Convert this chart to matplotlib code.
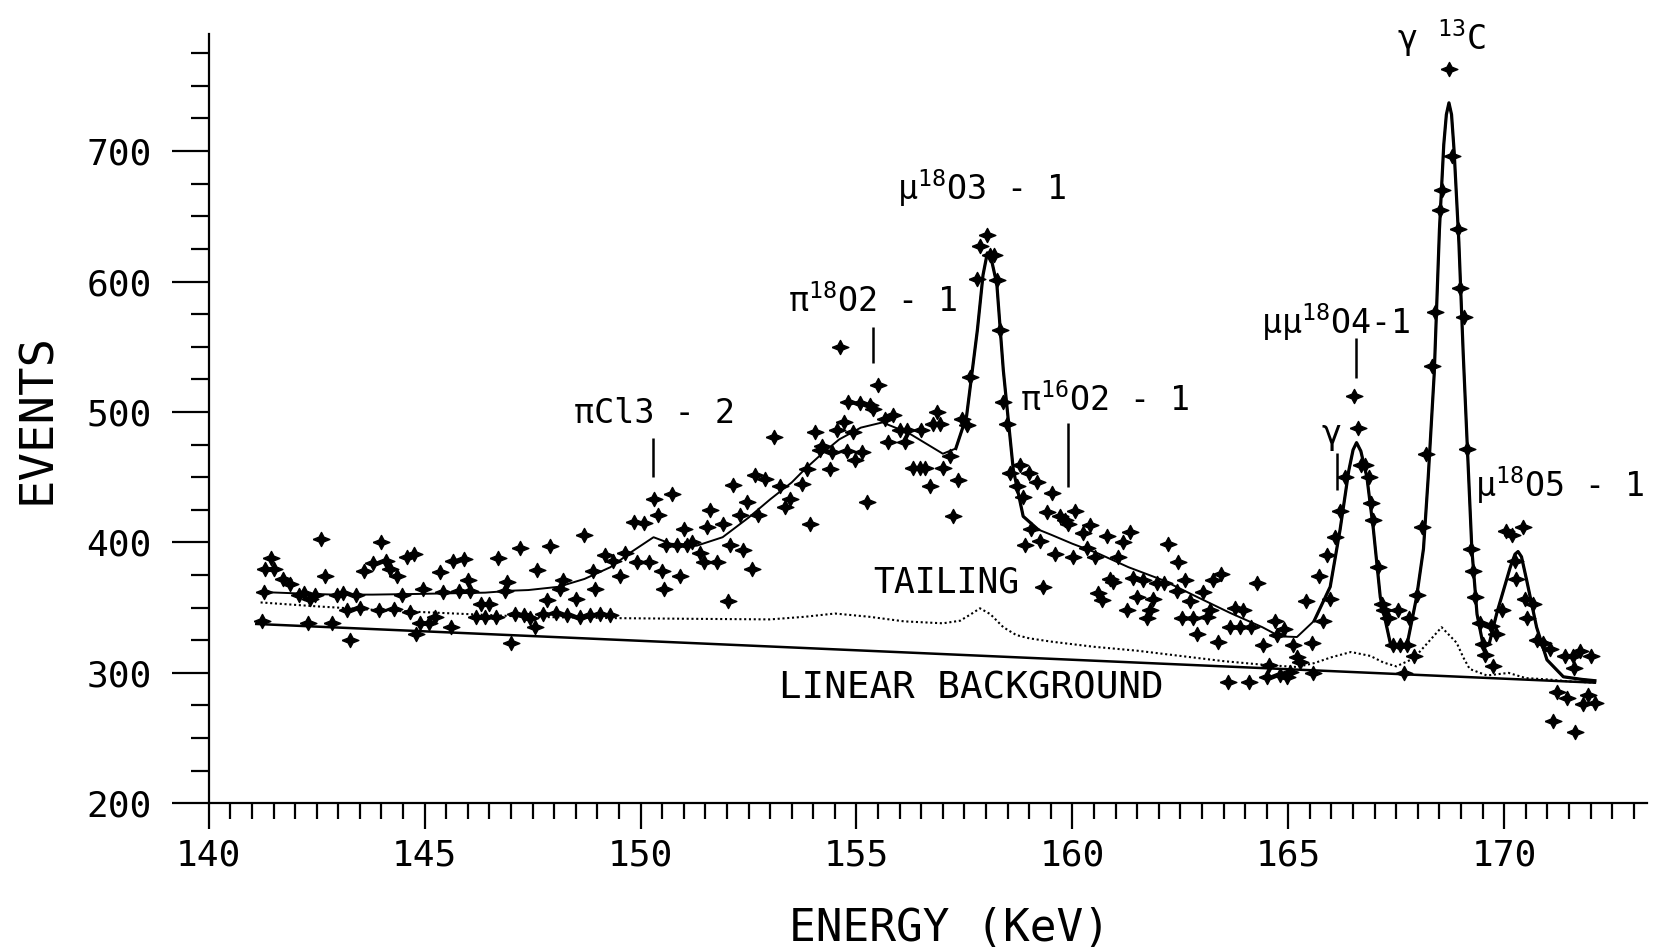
import numpy as np
import matplotlib
matplotlib.use("Agg")
import matplotlib.pyplot as plt
from matplotlib.ticker import MultipleLocator

plt.rcParams["font.family"] = ["DejaVu Sans Mono", "DejaVu Sans"]
plt.rcParams["mathtext.default"] = "regular"

# measured spectrum (energy in keV, events per channel)
energy = [
    141.23, 141.27, 141.30, 141.43, 141.50, 141.73, 141.88, 142.10, 142.20, 142.30,
    142.35, 142.45, 142.60, 142.70, 142.85, 142.97, 143.10, 143.20, 143.27, 143.40,
    143.50, 143.60, 143.80, 143.94, 144.00, 144.10, 144.20, 144.30, 144.35, 144.47,
    144.60, 144.65, 144.75, 144.80, 144.90, 144.97, 145.10, 145.25, 145.35, 145.42,
    145.60, 145.65, 145.80, 145.90, 146.00, 146.05, 146.20, 146.30, 146.40, 146.50,
    146.65, 146.70, 146.85, 146.90, 147.00, 147.10, 147.20, 147.30, 147.45, 147.56,
    147.60, 147.75, 147.83, 147.90, 148.05, 148.14, 148.20, 148.30, 148.50, 148.60,
    148.70, 148.82, 148.90, 148.95, 149.05, 149.18, 149.30, 149.37, 149.53, 149.65,
    149.84, 149.92, 150.07, 150.20, 150.30, 150.40, 150.50, 150.55, 150.60, 150.72,
    150.84, 150.92, 151.00, 151.07, 151.19, 151.38, 151.46, 151.53, 151.61, 151.76,
    151.92, 152.03, 152.07, 152.15, 152.30, 152.38, 152.46, 152.57, 152.65, 152.73,
    152.88, 153.10, 153.22, 153.34, 153.45, 153.73, 153.85, 153.93, 154.04, 154.16,
    154.20, 154.39, 154.43, 154.54, 154.62, 154.70, 154.78, 154.81, 154.93, 154.97,
    155.08, 155.12, 155.24, 155.31, 155.39, 155.50, 155.66, 155.74, 155.85, 156.00,
    156.12, 156.16, 156.31, 156.47, 156.50, 156.58, 156.70, 156.78, 156.86, 156.93,
    157.00, 157.17, 157.24, 157.36, 157.44, 157.55, 157.63, 157.79, 157.86, 158.03,
    158.09, 158.18, 158.26, 158.32, 158.40, 158.48, 158.55, 158.71, 158.78, 158.86,
    158.90, 159.00, 159.05, 159.18, 159.25, 159.33, 159.41, 159.52, 159.60, 159.72,
    159.83, 159.90, 160.02, 160.06, 160.25, 160.33, 160.41, 160.52, 160.60, 160.68,
    160.80, 160.87, 160.95, 161.06, 161.18, 161.26, 161.34, 161.41, 161.49, 161.64,
    161.72, 161.80, 161.87, 161.95, 162.11, 162.22, 162.42, 162.45, 162.53, 162.60,
    162.72, 162.80, 162.88, 163.03, 163.11, 163.19, 163.26, 163.37, 163.45, 163.60,
    163.65, 163.76, 163.88, 163.95, 164.10, 164.13, 164.27, 164.42, 164.50, 164.55,
    164.69, 164.73, 164.81, 164.89, 164.96, 165.04, 165.12, 165.19, 165.26, 165.42,
    165.54, 165.58, 165.70, 165.81, 165.89, 165.97, 166.08, 166.20, 166.32, 166.51,
    166.62, 166.68, 166.78, 166.86, 166.92, 166.97, 167.08, 167.16, 167.22, 167.30,
    167.43, 167.55, 167.59, 167.67, 167.74, 167.80, 167.90, 167.98, 168.09, 168.20,
    168.32, 168.40, 168.51, 168.57, 168.71, 168.79, 168.94, 168.98, 169.08, 169.14,
    169.22, 169.28, 169.33, 169.44, 169.52, 169.55, 169.70, 169.74, 169.82, 169.94,
    170.05, 170.17, 170.24, 170.28, 170.44, 170.47, 170.52, 170.67, 170.75, 170.90,
    171.06, 171.14, 171.22, 171.41, 171.45, 171.60, 171.62, 171.64, 171.75, 171.83,
    171.95, 172.02, 172.10,
]
events = [
    340, 362, 380, 388, 380, 372, 368, 360, 361, 338,
    357, 360, 403, 374, 338, 360, 361, 348, 325, 360,
    350, 378, 384, 348, 400, 386, 380, 349, 374, 360,
    389, 347, 391, 330, 338, 364, 338, 343, 377, 362,
    335, 386, 363, 387, 371, 363, 343, 353, 343, 353,
    343, 388, 363, 370, 323, 345, 396, 344, 342, 335,
    379, 345, 356, 397, 346, 364, 371, 344, 357, 343,
    406, 344, 378, 364, 345, 390, 344, 386, 374, 392,
    416, 385, 415, 385, 433, 421, 378, 364, 398, 437,
    398, 374, 410, 398, 400, 392, 385, 412, 425, 385,
    414, 355, 398, 444, 421, 394, 431, 380, 452, 421,
    449, 481, 443, 427, 433, 445, 456, 414, 485, 471,
    474, 456, 469, 486, 550, 492, 470, 508, 485, 463,
    507, 469, 431, 505, 502, 521, 495, 477, 498, 486,
    477, 486, 457, 457, 486, 457, 443, 491, 500, 491,
    457, 466, 420, 448, 495, 490, 527, 602, 627, 636,
    620, 620, 601, 563, 508, 491, 453, 443, 459, 435,
    398, 453, 410, 446, 401, 366, 423, 438, 391, 420,
    417, 414, 389, 424, 407, 396, 413, 389, 361, 356,
    405, 372, 370, 389, 400, 348, 408, 373, 358, 371,
    342, 348, 357, 369, 369, 399, 363, 385, 342, 371,
    355, 342, 330, 362, 343, 348, 371, 324, 376, 293,
    335, 350, 335, 348, 293, 335, 369, 321, 297, 306,
    340, 329, 298, 334, 297, 301, 321, 312, 308, 355,
    323, 300, 374, 340, 390, 357, 404, 424, 450, 512,
    488, 459, 459, 450, 430, 417, 381, 353, 348, 342,
    321, 348, 321, 300, 321, 342, 313, 360, 412, 468,
    535, 577, 655, 670, 763, 696, 640, 595, 573, 472,
    395, 378, 358, 338, 322, 314, 336, 305, 330, 348,
    409, 406, 386, 372, 412, 357, 342, 353, 325, 323,
    318, 263, 285, 313, 281, 313, 304, 255, 317, 276,
    283, 313, 277,
]

# fitted total
fit_e = [141.2, 142.0, 142.9, 143.8, 144.8, 145.6, 146.4, 147.0, 147.4, 148.1,
         148.7, 149.3, 149.8, 150.3, 150.7, 151.3, 151.9, 152.5, 153.0, 153.5,
         153.8, 154.2, 154.6, 155.1, 155.6, 156.2, 156.6, 157.0, 157.3, 157.55,
         157.8, 157.93, 158.03, 158.13, 158.25, 158.4, 158.63, 158.86, 159.2, 159.5,
         160.0, 160.6, 161.3, 162.1, 162.9, 163.65, 164.4, 164.8, 165.2, 165.6,
         165.97, 166.2, 166.4, 166.5, 166.58, 166.68, 166.82, 166.97, 167.13, 167.36,
         167.55, 167.74, 167.97, 168.13, 168.24, 168.38, 168.5, 168.6, 168.66, 168.72,
         168.78, 168.84, 168.95, 169.05, 169.15, 169.25, 169.37, 169.52, 169.65, 169.83,
         170.14, 170.25, 170.32, 170.4, 170.52, 170.75, 170.99, 171.37, 171.8, 172.1]
fit_y = [362, 361, 360, 360, 360.5, 361, 361.5, 363, 363.5, 366,
         372, 381, 393, 404, 399, 397.5, 404, 419, 433, 446,
         456, 468, 479, 488, 492, 484, 476, 468, 472, 497,
         563, 605, 622, 616, 598, 532, 456, 420, 410, 406,
         399, 391.5, 381, 371, 358, 346, 335, 328, 327.5, 340,
         366, 410, 455, 471, 476.5, 470, 450, 410, 358, 323,
         319, 320, 358, 395, 450, 530, 640, 705, 728, 737,
         728, 700, 630, 545, 470, 395, 345, 320, 322, 346,
         381, 391, 393, 389, 371, 335, 310, 297, 295, 294]

# tailing contribution
tail_e = [141.2, 142.5, 144.0, 145.7, 147.4, 149.3, 151.0, 153.0, 153.8, 154.5,
          155.3, 156.1, 157.0, 157.4, 157.65, 157.86, 158.1, 158.4, 158.7, 159.0,
          159.5, 160.5, 161.5, 162.5, 163.5, 164.5, 165.2, 165.6, 166.0, 166.45,
          166.9, 167.2, 167.5, 167.9, 168.2, 168.55, 168.9, 169.05, 169.2, 169.6,
          170.1, 170.5, 171.0, 171.5, 172.1]
tail_y = [354, 351, 348, 345.5, 343, 342, 341.5, 341, 343, 345.5,
          343, 339.5, 338, 340, 345, 349.5, 345, 335, 329, 326.5,
          324, 320, 317, 313, 309, 306, 304.5, 307.5, 312, 316,
          313, 308, 305, 311, 322, 335, 323, 312, 303, 298,
          300, 296, 295, 293.5, 292.5]

# linear background
bg_e = [141.1, 172.1]
bg_y = [337.5, 292.5]

fig = plt.figure(figsize=(16.53, 9.49), dpi=100)
ax = fig.add_axes([0.1263, 0.1535, 0.8699, 0.811])

star = [(-1, 0), (-0.3, 0.28), (0, 0.85), (0.3, 0.28), (1, 0),
        (0.3, -0.28), (0, -0.85), (-0.3, -0.28), (-1, 0)]

ax.plot(bg_e, bg_y, color="black", lw=1.8)
ax.plot(tail_e, tail_y, color="black", lw=1.5, ls=(0, (1, 1.3)))
ax.plot(fit_e, fit_y, color="black", lw=1.4)
# the sharp peaks are drawn heavier
fe = np.array(fit_e)
fy = np.array(fit_y)
for lo, hi in [(157.2, 159.3), (165.5, 172.2)]:
    m = (fe >= lo) & (fe <= hi)
    ax.plot(fe[m], fy[m], color="black", lw=2.3)
ax.plot(energy, events, ls="none", marker=star, ms=12, color="black", zorder=3)

# axes
ax.set_xlim(140, 173.3)
ax.set_ylim(200, 790)
for s in ("top", "right"):
    ax.spines[s].set_visible(False)
for s in ("left", "bottom"):
    ax.spines[s].set_linewidth(1.6)
ax.xaxis.set_major_locator(MultipleLocator(5))
ax.xaxis.set_minor_locator(MultipleLocator(0.5))
ax.yaxis.set_major_locator(MultipleLocator(100))
ax.yaxis.set_minor_locator(MultipleLocator(25))
ax.tick_params(which="both", direction="out", width=1.6, colors="black")
ax.tick_params(axis="x", which="major", length=19, pad=6, labelsize=26)
ax.tick_params(axis="x", which="minor", length=11.5)
ax.tick_params(axis="y", which="major", length=27, pad=14, labelsize=26)
ax.tick_params(axis="y", which="minor", length=13)

ax.set_xlabel("ENERGY (KeV)", fontsize=32, va="center")
ax.xaxis.set_label_coords(0.515, -0.162)
ax.set_ylabel("EVENTS", fontsize=34, va="center")
ax.yaxis.set_label_coords(-0.119, 0.5)

# line labels
txt = dict(ha="center", va="center", fontsize=24)
ax.text(157.9, 672, "μ$^{18}$O3 - 1", **txt)
ax.text(155.39, 585, "π$^{18}$O2 - 1", **txt)
ax.text(150.33, 499, "πCl3 - 2", **txt)
ax.text(160.76, 509, "π$^{16}$O2 - 1", **txt)
ax.text(166.1, 569, "μμ$^{18}$O4-1", **txt)
ax.text(168.56, 787, "γ $^{13}$C", **txt)
ax.text(166.0, 483, "γ", **txt)
ax.text(171.3, 444, "μ$^{18}$O5 - 1", **txt)
ax.text(157.09, 369, "TAILING", ha="center", va="center", fontsize=25)
ax.text(157.67, 288, "LINEAR BACKGROUND", ha="center", va="center", fontsize=27)

ax.vlines([150.28, 155.38, 159.89, 166.56, 166.12],
          [450.5, 537.4, 442.5, 526, 440.3],
          [480, 565.5, 491.6, 556.6, 468.4], color="black", lw=1.8)

fig.savefig("out.png", dpi=100)
